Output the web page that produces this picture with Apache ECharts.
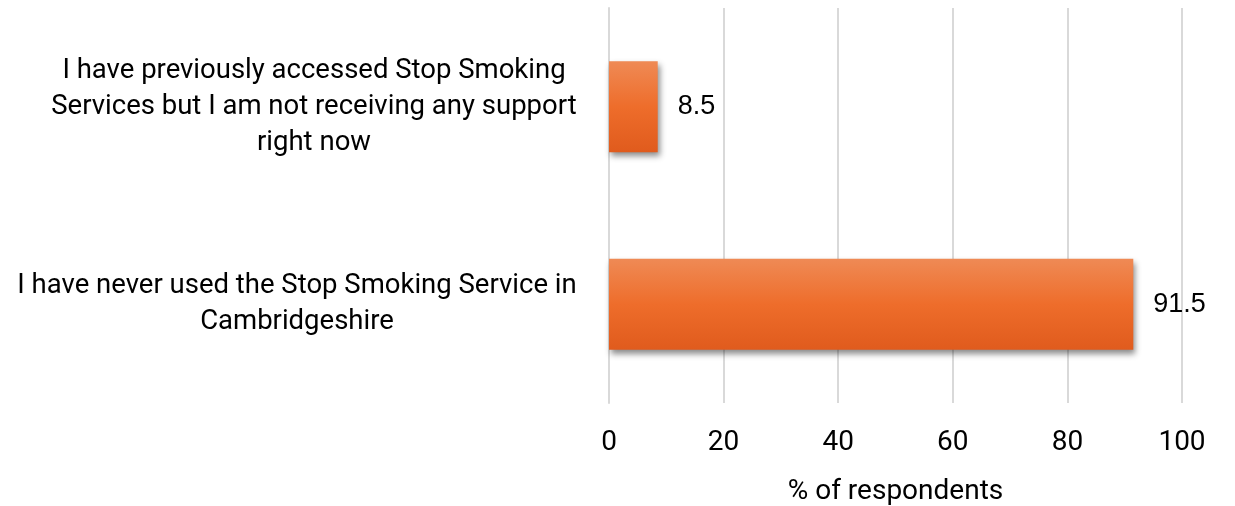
<!DOCTYPE html>
<html>
<head>
<meta charset="utf-8">
<script src="https://cdn.jsdelivr.net/npm/echarts@6/dist/echarts.min.js"></script>
<style>
  html, body { margin: 0; padding: 0; background: #fff; }
  #chart { width: 1235px; height: 506px; }
</style>
</head>
<body>
<div id="chart"></div>
<script>
// Survey answers (top to bottom), wrapped onto several lines
const categories = [
  'I have previously accessed Stop Smoking\nServices but I am not receiving any support\nright now',
  'I have never used the Stop Smoking Service in\nCambridgeshire'
];
const percentages = [8.5, 91.5];
const axisTicks = { min: 0, max: 100, interval: 20 };

const LABEL_FONT = 'Roboto';
const LABEL_SIZE = 27.5;

// Each category label is a block whose lines are centred within the block,
// and the whole block sits flush against the axis.
const measureCtx = document.createElement('canvas').getContext('2d');
measureCtx.font = LABEL_SIZE + 'px ' + LABEL_FONT;
const richStyles = {};
categories.forEach((cat, i) => {
  const w = Math.max(...cat.split('\n').map(l => measureCtx.measureText(l).width));
  richStyles['c' + i] = {
    width: Math.ceil(w) + 2,
    align: 'center',
    fontFamily: LABEL_FONT,
    fontSize: LABEL_SIZE,
    lineHeight: 36,
    color: '#000'
  };
});

const chart = echarts.init(document.getElementById('chart'));

const barFill = new echarts.graphic.LinearGradient(0, 0, 0, 1, [
  { offset: 0, color: '#ef8a55' },
  { offset: 0.5, color: '#ee6d2b' },
  { offset: 1, color: '#e05b1d' }
]);

chart.setOption({
  animation: false,
  grid: { left: 609, right: 53, top: 8, bottom: 103, outerBoundsMode: 'none', containLabel: false },
  xAxis: {
    type: 'value',
    min: axisTicks.min,
    max: axisTicks.max,
    interval: axisTicks.interval,
    name: '% of respondents',
    nameLocation: 'middle',
    nameGap: 75,
    nameTextStyle: { fontFamily: LABEL_FONT, fontSize: 28, color: '#000' },
    axisLine: { show: false },
    axisTick: { show: false },
    axisLabel: { fontFamily: LABEL_FONT, fontSize: 28, color: '#000', margin: 26 },
    splitLine: { lineStyle: { color: '#d9d9d9', width: 2 } }
  },
  yAxis: {
    type: 'category',
    inverse: true,
    data: categories,
    axisLine: { show: true, lineStyle: { color: '#d9d9d9', width: 2 } },
    axisTick: { show: false },
    axisLabel: {
      align: 'right',
      margin: 31,
      formatter: (value, index) =>
        value.split('\n').map(line => '{c' + index + '|' + line + '}').join('\n'),
      rich: richStyles
    }
  },
  series: [{
    type: 'bar',
    data: percentages,
    barWidth: 91,
    itemStyle: {
      color: barFill,
      shadowColor: 'rgba(0,0,0,0.45)',
      shadowBlur: 6,
      shadowOffsetX: 2,
      shadowOffsetY: 4
    },
    label: {
      show: true,
      position: 'right',
      distance: 20,
      fontFamily: 'Liberation Sans',
      fontSize: 27,
      color: '#000'
    }
  }]
});
</script>
</body>
</html>
